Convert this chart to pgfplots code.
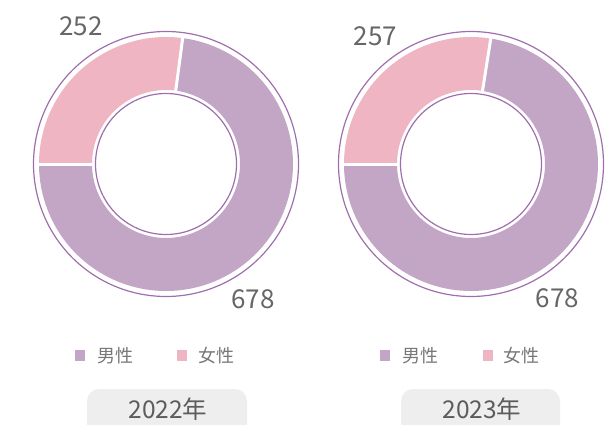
\documentclass[border=0pt]{standalone}
\usepackage{pgfplots}
\pgfplotsset{compat=1.18}
\usepackage{pgfplotstable}
\usepackage{fontspec}
\setmainfont{Noto Sans CJK SC}
\definecolor{malec}{HTML}{C3A6C6}
\definecolor{femalec}{HTML}{EFB5C2}
\definecolor{ringc}{HTML}{9E6FAC}
\definecolor{labc}{HTML}{666666}
\definecolor{legc}{HTML}{777777}
\definecolor{boxc}{HTML}{EEEEEE}

\pgfplotstableread{
year male female cx
2022 678 252 166
2023 678 257 471
}\datatable

\begin{document}
\begin{tikzpicture}
\begin{axis}[
  x=1pt, y=1pt,
  xmin=0, xmax=611, ymin=0, ymax=424,
  axis lines=none, scale only axis,
  clip=false,
]
\coordinate (LL) at (axis cs:0,0);
\coordinate (UR) at (axis cs:611,424);
% ---- donuts ----
\pgfplotsforeachungrouped \r in {0,1}{
  \pgfplotstablegetelem{\r}{male}\of\datatable \let\m\pgfplotsretval
  \pgfplotstablegetelem{\r}{female}\of\datatable \let\f\pgfplotsretval
  \pgfplotstablegetelem{\r}{cx}\of\datatable \let\cx\pgfplotsretval
  \pgfmathsetmacro\frac{\m/(\m+\f)}
  \pgfmathsetmacro\bA{180+360*\frac}
  \edef\temp{%
    \noexpand\addplot[draw=malec, line width=53pt, domain=180:\bA, samples=150, no marks]
      ({\cx+100.5*cos(x)},{260+100.5*sin(x)});
    \noexpand\addplot[draw=femalec, line width=53pt, domain=\bA:540, samples=80, no marks]
      ({\cx+100.5*cos(x)},{260+100.5*sin(x)});
    \noexpand\addplot[draw=white, line width=3pt, domain=72:129, samples=2, no marks]
      ({\cx+x*cos(180)},{260+x*sin(180)});
    \noexpand\addplot[draw=white, line width=3pt, domain=72:129, samples=2, no marks]
      ({\cx+x*cos(\bA)},{260+x*sin(\bA)});
    \noexpand\addplot[draw=ringc, line width=1.2pt, domain=0:360, samples=240, no marks]
      ({\cx+132.5*cos(x)},{260+132.5*sin(x)});
    \noexpand\addplot[draw=ringc, line width=1.2pt, domain=0:360, samples=160, no marks]
      ({\cx+70.5*cos(x)},{260+70.5*sin(x)});
  }\temp
}
% ---- value labels ----
\begin{scope}[every node/.style={text=labc, font=\fontsize{26}{26}\selectfont, inner sep=0pt}]
\node at (axis cs:81,398) {252};
\node at (axis cs:253,125) {678};
\node at (axis cs:375.5,387.5) {257};
\node at (axis cs:557.5,125.5) {678};
\end{scope}
% ---- legends ----
\begin{scope}[every node/.style={text=legc, font=\fontsize{18}{18}\selectfont, inner sep=0pt, anchor=west}]
\fill[malec] (axis cs:75,63.5) rectangle (axis cs:85,74.5);
\node at (axis cs:97,68) {男性};
\fill[femalec] (axis cs:176.5,63.5) rectangle (axis cs:186.5,74.5);
\node at (axis cs:198,68) {女性};
\fill[malec] (axis cs:380,63.5) rectangle (axis cs:390,74.5);
\node at (axis cs:402,68) {男性};
\fill[femalec] (axis cs:483,63.5) rectangle (axis cs:493,74.5);
\node at (axis cs:503,68) {女性};
\end{scope}
% ---- year boxes ----
\fill[boxc, rounded corners=12pt] (axis cs:87,35) rectangle (axis cs:247,-20);
\fill[boxc, rounded corners=12pt] (axis cs:401,35) rectangle (axis cs:560,-20);
\begin{scope}[every node/.style={text=labc!90!black, font=\fontsize{24.5}{24.5}\selectfont, inner sep=0pt}]
\node at (axis cs:168,15) {2022年};
\node at (axis cs:482,15) {2023年};
\end{scope}
\end{axis}
\pgfresetboundingbox
\path[use as bounding box] (LL) rectangle (UR);
\end{tikzpicture}
\end{document}
